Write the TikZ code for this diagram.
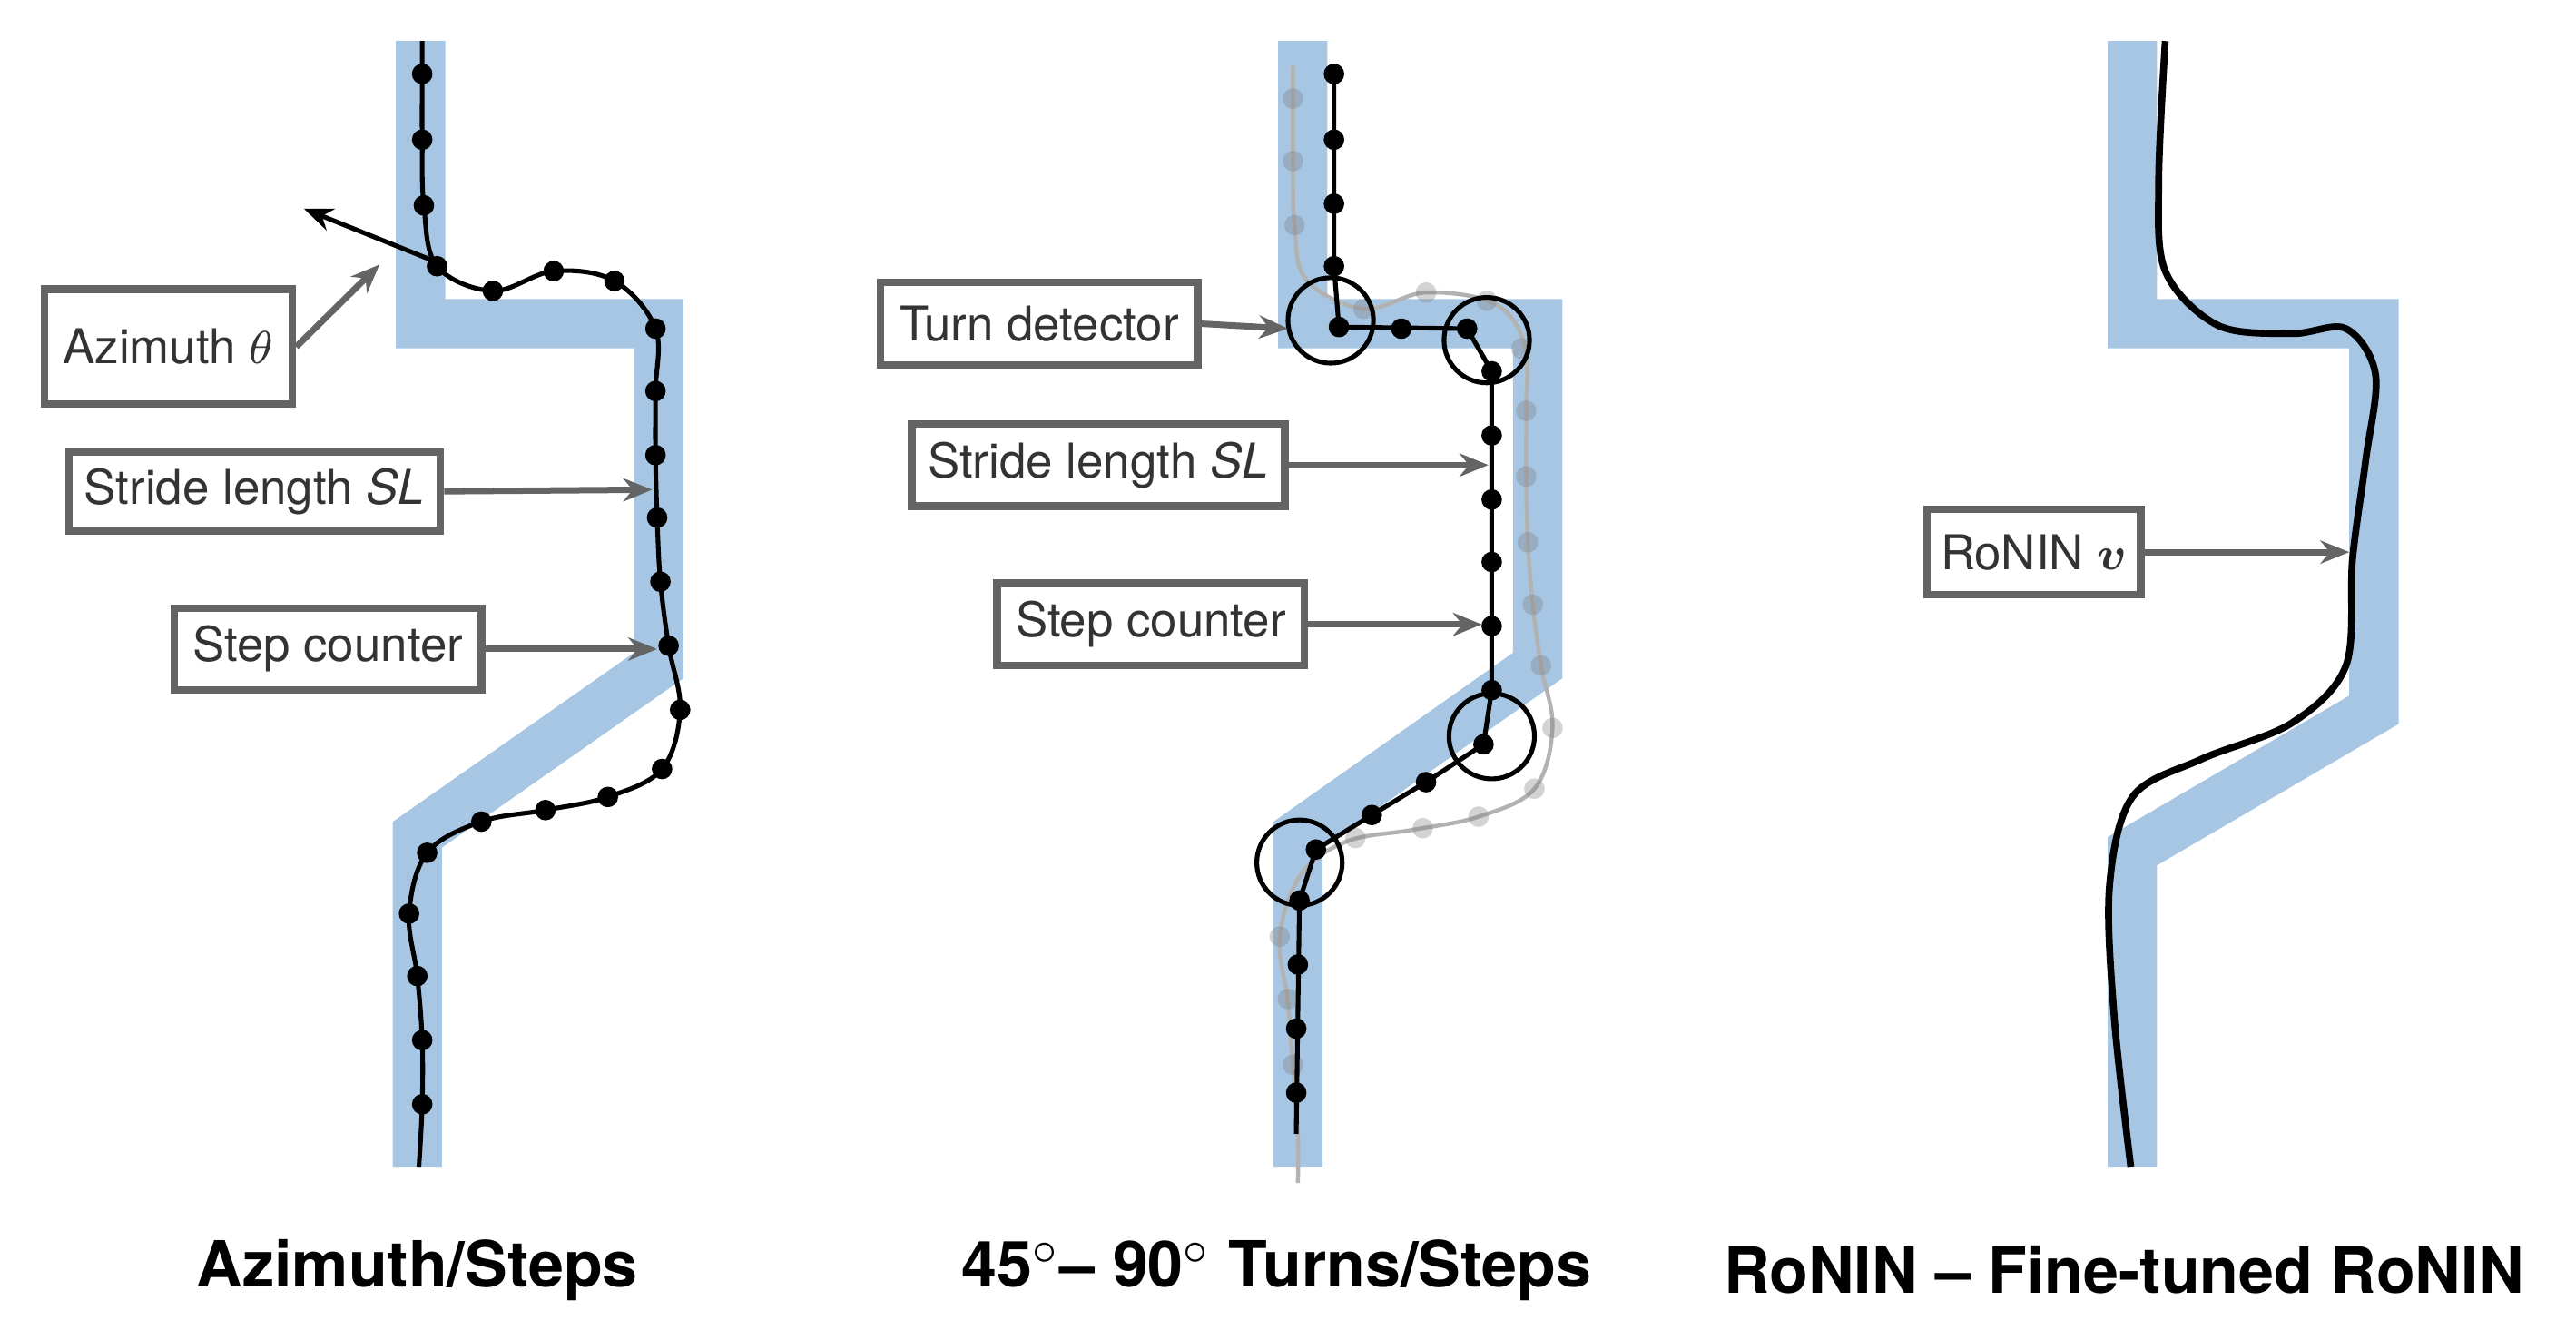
\documentclass[tikz,border=0pt]{standalone}
\usepackage{amsmath}
\usepackage{fontspec}
\setmainfont{TeX Gyre Heros}
\usetikzlibrary{arrows.meta}
\definecolor{band}{RGB}{166,198,228}
\definecolor{bx}{RGB}{100,100,100}
\begin{document}
\begin{tikzpicture}[x=0.01cm,y=-0.01cm,
  band/.style={draw=band,line width=30*0.2845pt,miter limit=10},
  trk/.style={line width=0.8pt},
  dot/.style={circle,fill=black,inner sep=0pt,minimum size=12.5*0.2845pt},
  gdot/.style={circle,fill=gray,fill opacity=0.35,inner sep=0pt,minimum size=12.5*0.2845pt},
  lbl/.style={draw=bx,line width=1.3pt,inner sep=0pt,font=\fontsize{8.3pt}{10pt}\selectfont,text=black!80},
  arr/.style={draw=bx,line width=1.1pt,-{Stealth[length=5pt,width=4pt]}},
  ring/.style={circle,draw=black,line width=0.8pt,minimum size=52*0.2845pt,inner sep=0pt},
  title/.style={font=\fontsize{11pt}{13pt}\selectfont\bfseries}]
\useasboundingbox (0,0) rectangle (1568,815);
% ---------- panel 1
\draw[band] (256,25) -- (256,197) -- (401,197) -- (401,405) -- (254,508) -- (254,710);
\draw[trk] plot[smooth,tension=0.6] coordinates{(257,25)(257,45)(257,85)(258,125)(266,162)(300,177)(337,165)(374,171)(399,200)(399,238)(399,277)(400,315)(402,354)(407,393)(414,432)(403,468)(370,485)(332,493)(293,500)(260,519)(249,556)(254,594)(257,633)(257,672)(255,710)};
\foreach \p in {(257,45),(257,85),(258,125),(266,162),(300,177),(337,165),(374,171),(399,200),(399,238),(399,277),(400,315),(402,354),(407,393),(414,432),(403,468),(370,485),(332,493),(293,500),(260,519),(249,556),(254,594),(257,633),(257,672)} \node[dot] at \p {};
\coordinate (a0) at (262,158); \coordinate (a1) at (185,127);
\draw[line width=0.8pt,-{Stealth[length=5pt,width=4pt]}] (a0) -- (a1);
\node[lbl,minimum width=151*0.2845pt,minimum height=70*0.2845pt] (az) at (102.5,211) {Azimuth $\theta$};
\coordinate (azt) at (231,161);
\draw[arr] (az.east) -- (azt);
\node[lbl,minimum width=226*0.2845pt,minimum height=48*0.2845pt] (sl1) at (155,299) {Stride length \textit{SL}};
\coordinate (sl1t) at (397,298);
\draw[arr] (sl1.east) -- (sl1t);
\node[lbl,minimum width=187*0.2845pt,minimum height=50*0.2845pt] (sc1) at (199.5,395) {Step counter};
\coordinate (sc1t) at (400,395);
\draw[arr] (sc1.east) -- (sc1t);
% ---------- panel 2
\draw[band] (793,25) -- (793,197) -- (936,197) -- (936,405) -- (790,508) -- (790,710);
\draw[gray!60,line width=0.7pt] plot[smooth,tension=0.6] coordinates{(787,40)(787,98)(788,137)(795,170)(830,188)(868,178)(910,185)(928,210)(929,250)(929,290)(930,330)(933,368)(938,405)(945,443)(934,480)(900,497)(860,505)(820,512)(792,532)(779,570)(784,610)(787,650)(790,690)(790,720)};
\foreach \p in {(787,60),(787,98),(788,137),(830,188),(868,178),(905,183),(926,212),(929,250),(929,290),(930,330),(933,368),(938,405),(945,443),(934,480),(900,497),(866,504),(825,510),(779,570),(784,608),(787,648)} \node[gdot] at \p {};
\draw[trk] (812,45) -- (812,162) -- (815,199) -- (893,200) -- (908,226) -- (908,420) -- (903,453) -- (868,476) -- (835,496) -- (801,517) -- (791,548) -- (789,690);
\foreach \p in {(812,45),(812,85),(812,124),(812,162),(815,199),(853,200),(893,200),(908,226),(908,265),(908,304),(908,342),(908,381),(908,420),(903,453),(868,476),(835,496),(801,517),(791,548),(790,587),(789,626),(789,665)} \node[dot] at \p {};
\node[ring] (r1) at (810,195) {};
\node[ring] (r2) at (905,207) {};
\node[ring] (r3) at (908,448) {};
\node[ring] (r4) at (791,525) {};
\node[lbl,minimum width=193*0.2845pt,minimum height=50*0.2845pt] (td) at (632.5,197) {Turn detector};
\coordinate (tdt) at (784,200);
\draw[arr] (td.east) -- (tdt);
\node[lbl,minimum width=227*0.2845pt,minimum height=50*0.2845pt] (sl2) at (668.5,283) {Stride length \textit{SL}};
\coordinate (sl2t) at (906,283);
\draw[arr] (sl2.east) -- (sl2t);
\node[lbl,minimum width=187*0.2845pt,minimum height=50*0.2845pt] (sc2) at (700.5,380) {Step counter};
\coordinate (sc2t) at (902,380);
\draw[arr] (sc2.east) -- (sc2t);
% ---------- panel 3
\draw[band] (1298,25) -- (1298,197) -- (1445,197) -- (1445,432) -- (1298,518) -- (1298,710);
\draw[line width=1.2pt] plot[smooth,tension=0.55] coordinates{(1318,25)(1314,110)(1318,165)(1350,198)(1395,203)(1428,200)(1446,228)(1440,280)(1432,340)(1428,405)(1395,440)(1340,462)(1298,485)(1284,540)(1287,620)(1297,710)};
\node[lbl,minimum width=130*0.2845pt,minimum height=52*0.2845pt] (rn) at (1238,336) {RoNIN $\boldsymbol{v}$};
\coordinate (rnt) at (1430,336);
\draw[arr] (rn.east) -- (rnt);
% ---------- titles
\node[title] (t1) at (254,773) {Azimuth/Steps};
\node[title] (t2) at (777,773) {45$^\circ$– 90$^\circ$ Turns/Steps};
\node[title] (t3) at (1293,773) {RoNIN – Fine-tuned RoNIN};
\end{tikzpicture}
\end{document}
